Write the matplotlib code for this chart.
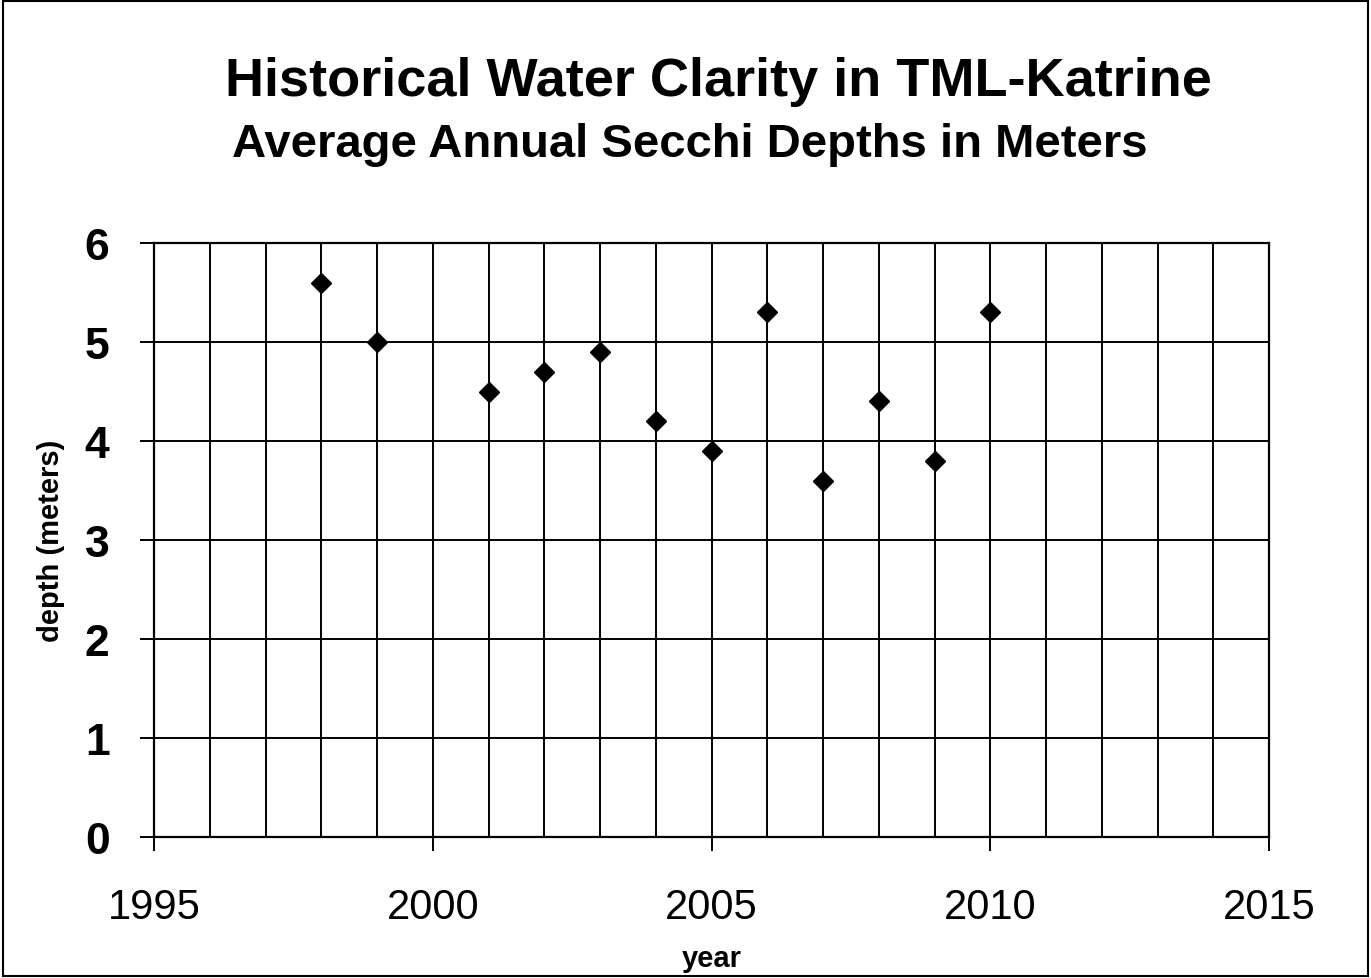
import numpy as np
import matplotlib
matplotlib.use("Agg")
import matplotlib.pyplot as plt
from matplotlib.ticker import MultipleLocator

plt.rcParams['font.family'] = ['Liberation Sans', 'DejaVu Sans']

# average annual secchi depths (m)
years = [1998, 1999, 2001, 2002, 2003, 2004, 2005, 2006, 2007, 2008, 2009, 2010]
depths = [5.6, 5.0, 4.5, 4.7, 4.9, 4.2, 3.9, 5.3, 3.6, 4.4, 3.8, 5.3]

title = "Historical Water Clarity in TML-Katrine"
subtitle = "Average Annual Secchi Depths in Meters"

fig = plt.figure(figsize=(13.71, 9.79), dpi=100)
ax = fig.add_axes([154/1371, 1-838/979, (1269-154)/1371, (838-244)/979])

ax.plot(years, depths, 'D', color='black', markersize=10, zorder=3, clip_on=False)

ax.set_xlim(1995, 2015)
ax.set_ylim(0, 6)
ax.xaxis.set_major_locator(MultipleLocator(5))
ax.xaxis.set_minor_locator(MultipleLocator(1))
ax.yaxis.set_major_locator(MultipleLocator(1))
ax.grid(True, which='both', axis='x', color='black', linewidth=1.4)
ax.grid(True, which='major', axis='y', color='black', linewidth=1.4)
ax.tick_params(axis='x', which='major', direction='out', length=10, width=1.4,
               labelsize=30, pad=26)
ax.tick_params(axis='x', which='minor', length=0)
ax.tick_params(axis='y', direction='out', length=10, width=1.4, labelsize=32, pad=22)
for lab in ax.get_yticklabels():
    lab.set_fontweight('bold')
for s in ax.spines.values():
    s.set_linewidth(1.6)

ax.set_xlabel("year", fontsize=21, fontweight='bold', labelpad=12)
ax.set_ylabel("depth (meters)", fontsize=21, fontweight='bold', labelpad=14)

fig.text(718/1371, 1-82/979, title, ha='center', va='center', fontsize=39, fontweight='bold')
fig.text(690/1371, 1-145/979, subtitle, ha='center', va='center', fontsize=34, fontweight='bold')

# outer frame
fig.patches.append(plt.Rectangle((0.002, 0.002), 0.996, 0.996, transform=fig.transFigure,
                                 fill=False, edgecolor='black', linewidth=1.5))

fig.savefig("out.png", dpi=100, facecolor='white')
